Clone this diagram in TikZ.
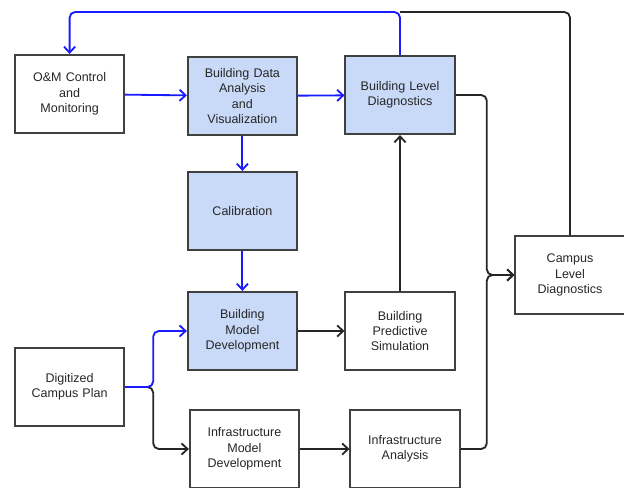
\documentclass[tikz,border=0pt]{standalone}
\usepackage{fontspec}
\setmainfont{Liberation Sans}
\usetikzlibrary{arrows.meta}
\definecolor{boxblue}{HTML}{C9DAF8}
\definecolor{linkblue}{HTML}{1A1AFF}
\tikzset{
  box/.style={draw=black!75, line width=1.2pt, minimum width=2.6cm, minimum height=1.96cm,
    text width=2.5cm, align=center, font=\fontsize{8.9}{10.9}\selectfont, text=black!85},
  shaded/.style={box, fill=boxblue},
  link/.style={line width=1.3pt, rounded corners=4pt, -{Straight Barb[length=1.5mm,width=2.8mm]}},
  bluelink/.style={link, draw=linkblue},
  blacklink/.style={link, draw=black!85}
}
\begin{document}
\begin{tikzpicture}
\useasboundingbox (0,0) rectangle (15.6,-12.175);
\node[box] (om) at (1.74,-2.35) {O\&M Control\\and\\Monitoring};
\node[shaded] (bda) at (6.06,-2.4) {Building Data\\Analysis\\and\\Visualization};
\node[shaded] (bld) at (10,-2.375) {Building Level\\Diagnostics};
\node[shaded] (cal) at (6.06,-5.275) {Calibration};
\node[shaded] (bmd) at (6.06,-8.275) {Building\\Model\\Development};
\node[box] (bps) at (10,-8.275) {Building\\Predictive\\Simulation};
\node[box] (cld) at (14.25,-6.875) {Campus\\Level\\Diagnostics};
\node[box] (dcp) at (1.74,-9.675) {Digitized\\Campus Plan};
\node[box] (imd) at (6.11,-11.225) {Infrastructure\\Model\\Development};
\node[box] (ia) at (10.125,-11.225) {Infrastructure\\Analysis};
\coordinate (top) at (1.74,-0.3);
\coordinate (split) at (3.83,-9.675);
\coordinate (bus) at (12.17,-6.875);
% feedback to operation
\draw[blacklink, -] (cld.north) |- (bld.north |- top);
\draw[bluelink] (bld.north) |- (top) -- (om.north);
\draw[bluelink] (om) -- (bda);
\draw[bluelink] (bda) -- (bld);
\draw[bluelink] (bda) -- (cal);
\draw[bluelink] (cal) -- (bmd);
\draw[blacklink] (bmd) -- (bps);
\draw[blacklink] (bps) -- (bld);
\draw[blacklink] (imd) -- (ia);
% campus level
\draw[blacklink] (bld.east) -| (bus) -- (cld.west);
\draw[blacklink] (ia.east) -| (bus) -- (cld.west);
% campus plan split
\draw[blacklink] (dcp.east) -- (split) |- (imd.west);
\draw[bluelink] (dcp.east) -- (split) |- (bmd.west);
\end{tikzpicture}
\end{document}
